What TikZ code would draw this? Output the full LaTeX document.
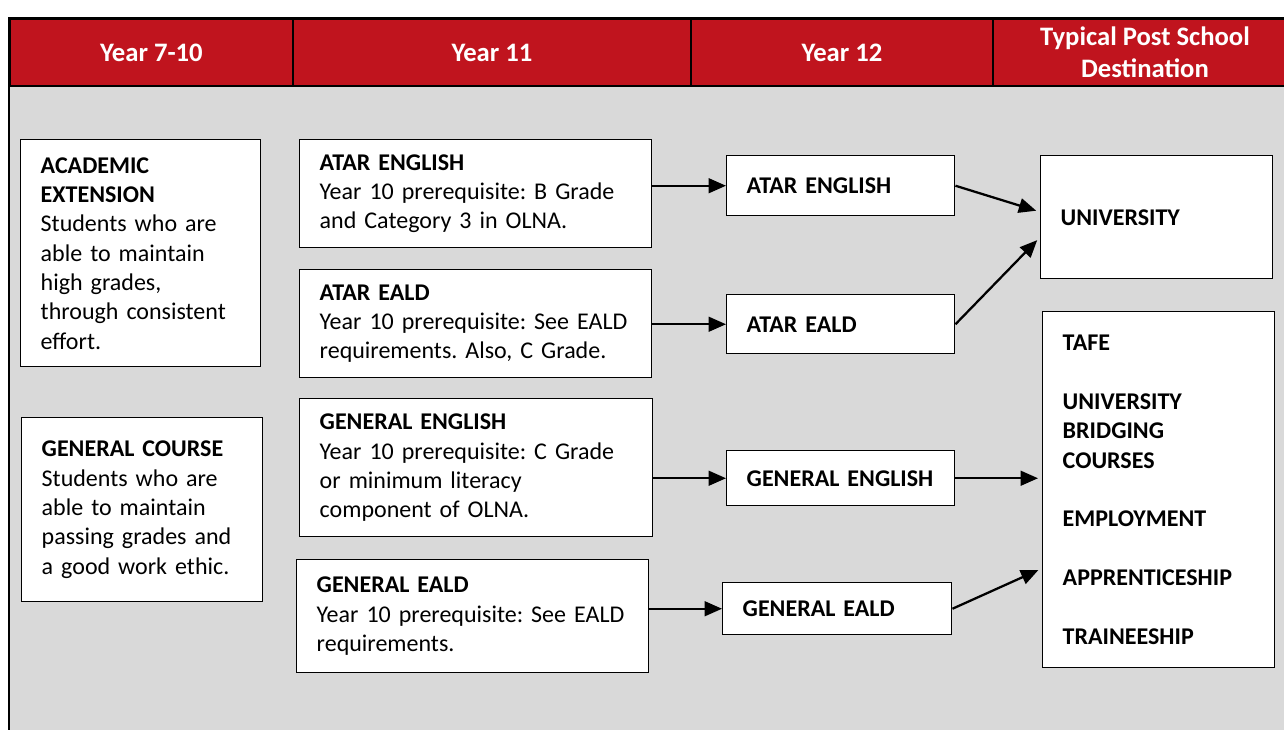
\documentclass[tikz,border=0pt]{standalone}
\usepackage{fontspec}
\setmainfont{Carlito}
\frenchspacing
\usepackage{tikz}
\usetikzlibrary{arrows.meta, positioning}
\definecolor{hdrred}{RGB}{192,20,30}
\definecolor{panelgray}{RGB}{217,217,217}

\begin{document}
\begin{tikzpicture}[x=0.75pt, y=-0.75pt, font=\fontsize{18}{22}\selectfont,
            hdr cell/.style={draw, line width=1.5pt, fill=hdrred, text=white, align=center,
                font=\fontsize{20}{24}\selectfont\bfseries, minimum height=50.25pt,
                inner sep=0pt, anchor=north west},
            course/.style={draw, line width=1.1pt, fill=white, align=left,
                inner xsep=15pt, inner ysep=0pt, anchor=north west},
            link/.style={-{Triangle[length=13pt, width=11pt]}, line width=1.7pt}]

            \useasboundingbox (0,0) rectangle (1284,729);
            \clip (0,0) rectangle (1284,729);

            % Panel and frame
            \fill[panelgray] (9,85) rectangle (1300,740);
            \draw[line width=1.5pt] (9,740) -- (9,18) -- (1300,18);

            % Header row
            \node[hdr cell, minimum width=212.25pt] (hdr710) at (9,18) {Year 7-10};
            \node[hdr cell, minimum width=298.5pt] (hdr11) at (292,18) {Year 11};
            \node[hdr cell, minimum width=226.5pt] (hdr12) at (690,18) {Year 12};
            \node[hdr cell, minimum width=228pt] (hdrdest) at (992,18) {Typical Post School\\Destination};

            % Year 7-10
            \node[course, text width=150pt, minimum height=170.25pt] (academic) at (20,139)
                {\textbf{ACADEMIC}\\\textbf{EXTENSION}\\Students who are\\able to maintain\\high grades,\\through consistent\\effort.};
            \node[course, text width=150.75pt, minimum height=138pt] (general) at (21,417)
                {\textbf{GENERAL COURSE}\\Students who are\\able to maintain\\passing grades and\\a good work ethic.\\[6pt]};

            % Year 11
            \node[course, text width=234pt, minimum height=81pt] (atarEng11) at (299,139)
                {\textbf{ATAR ENGLISH}\\Year 10 prerequisite: B Grade\\and Category 3 in OLNA.};
            \node[course, text width=234pt, minimum height=81pt] (atarEald11) at (299,269)
                {\textbf{ATAR EALD}\\Year 10 prerequisite: See EALD\\requirements. Also, C Grade.};
            \node[course, text width=234.75pt, minimum height=103.5pt] (genEng11) at (299,398)
                {\textbf{GENERAL ENGLISH}\\Year 10 prerequisite: C Grade\\or minimum literacy\\component of OLNA.};
            \node[course, text width=234pt, minimum height=84.75pt] (genEald11) at (296,559)
                {\textbf{GENERAL EALD}\\Year 10 prerequisite: See EALD\\requirements.};

            % Year 12
            \node[course, font=\fontsize{18}{22}\selectfont\bfseries, text width=141pt, minimum height=45pt] (atarEng12) at (726,155) {ATAR ENGLISH\\[4pt]};
            \node[course, font=\fontsize{18}{22}\selectfont\bfseries, text width=141pt, minimum height=44.25pt] (atarEald12) at (726,294) {ATAR EALD};
            \node[course, font=\fontsize{18}{22}\selectfont\bfseries, text width=141pt, minimum height=41.25pt] (genEng12) at (726,450) {GENERAL ENGLISH};
            \node[course, font=\fontsize{18}{22}\selectfont\bfseries, text width=141.75pt, minimum height=39pt] (genEald12) at (722,582) {GENERAL EALD};

            % Destinations
            \node[course, font=\fontsize{18}{22}\selectfont\bfseries, text width=144pt, minimum height=92.25pt] (uni) at (1040,155) {UNIVERSITY\\[8pt]};
            \node[course, font=\fontsize{18}{22}\selectfont\bfseries, text width=144pt, minimum height=267pt] (other) at (1042,311)
                {TAFE\\[22pt]UNIVERSITY\\BRIDGING\\COURSES\\[22pt]EMPLOYMENT\\[22pt]APPRENTICESHIP\\[22pt]TRAINEESHIP\\[6pt]};

            % Year 11 to Year 12
            \draw[link] (atarEng12.west -| atarEng11.east) -- (atarEng12.west);
            \draw[link] (atarEald12.west -| atarEald11.east) -- (atarEald12.west);
            \draw[link] (genEng12.west -| genEng11.east) -- (genEng12.west);
            \draw[link] (genEald12.west -| genEald11.east) -- (genEald12.west);

            % Year 12 to destination
            \draw[link, shorten >=3pt] (atarEng12.east) -- ([yshift=4pt]uni.west);
            \draw[link, shorten >=3pt] (atarEald12.east) -- ([yshift=-15pt]uni.west);
            \draw[link, shorten >=3pt] (genEng12.east) -- (genEng12.east -| other.west);
            \draw[link, shorten >=3pt] (genEald12.east) -- ([yshift=-59pt]other.west);
        \end{tikzpicture}
\end{document}
